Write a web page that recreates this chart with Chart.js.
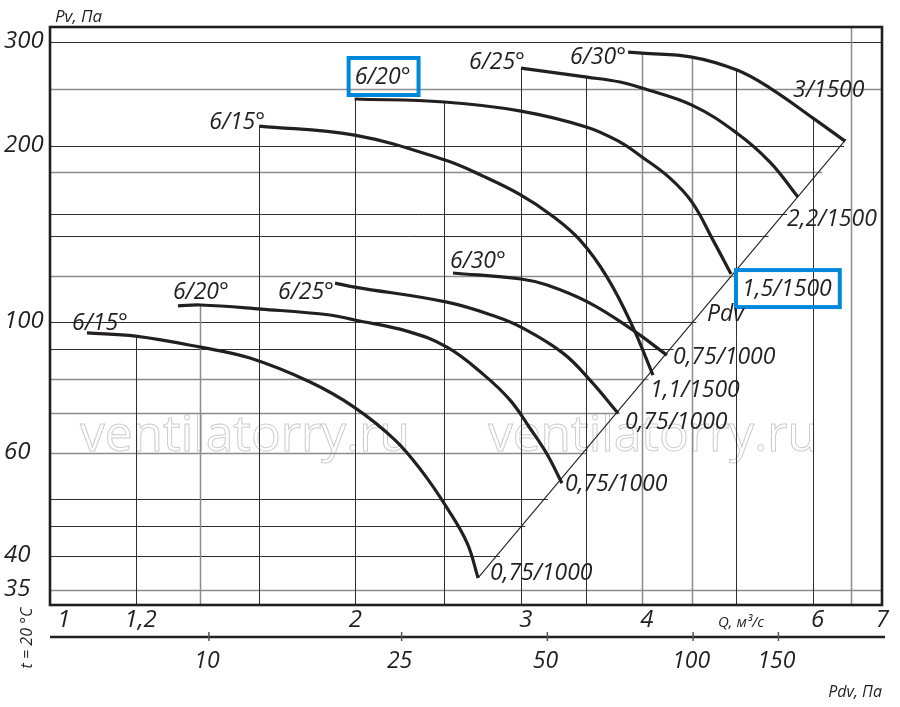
<!DOCTYPE html>
<html>
<head>
<meta charset="utf-8">
<title>Fan curves</title>
<script src="https://cdn.jsdelivr.net/npm/chart.js@4.4.1/dist/chart.umd.min.js"></script>
<style>
    html, body { margin: 0; padding: 0; background: #fff; }
    #wrap { width: 900px; height: 707px; }
</style>
</head>
<body>
<div id="wrap"><canvas id="fanChart" width="900" height="707"></canvas></div>
<script>
// ===========================
// DATA (Q in m3/s, Pv in Pa)
// ===========================

// 1000 rpm group
const qLow15 = [1.069, 1.2, 1.4, 1.575, 1.817, 2.017, 2.224, 2.377, 2.516, 2.639, 2.709];
const pLow15 = [95.9, 94.7, 90.7, 86.9, 79.1, 71.7, 63.0, 55.4, 48.3, 42.1, 36.7];
const qLow20 = [1.327, 1.4, 1.617, 1.905, 2.02, 2.288, 2.516, 2.741, 2.923, 3.065, 3.192, 3.307];
const pLow20 = [106.6, 107.0, 105.3, 102.9, 100.9, 96.6, 90.7, 81.6, 73.7, 66.0, 59.6, 53.2];
const qLow25 = [1.928, 2.02, 2.516, 2.834, 3.0, 3.315, 3.535, 3.779];
const pLow25 = [116.6, 114.8, 108.2, 102.1, 98.1, 88.6, 79.7, 70.0];
const qLow30 = [2.552, 3.0, 3.192, 3.518, 3.888, 4.245];
const pLow30 = [121.3, 118.5, 115.7, 108.2, 97.7, 87.9];

// 1500 rpm group
const qHigh15 = [1.61, 2.02, 2.504, 2.741, 3.0, 3.214, 3.452, 3.681, 3.906, 4.106];
const pHigh15 = [215.8, 208.3, 188.9, 177.4, 164.7, 152.8, 138.0, 119.4, 98.9, 81.3];
const qHigh20 = [2.02, 2.5, 3.0, 3.51, 3.797, 4.0, 4.275, 4.505, 4.736, 4.943];
const pHigh20 = [240.0, 237.2, 228.9, 214.9, 202.7, 191.2, 176.0, 160.2, 138.0, 120.8];
const qHigh25 = [3.0, 3.51, 3.797, 4.0, 4.505, 5.014, 5.423, 5.797];
const pHigh25 = [270.9, 261.5, 256.5, 250.5, 234.3, 209.9, 187.4, 163.4];
const qHigh30 = [3.87, 4.0, 4.505, 5.014, 5.423, 6.007, 6.482];
const pHigh30 = [288.4, 287.3, 282.9, 268.8, 250.5, 222.7, 203.5];

// Pdv line through the curve ends
const pdvLineQ = [2.709, 6.5];
const pdvLineP = [36.7, 205];

const angleLabels = ['6/15°', '6/20°', '6/25°', '6/30°', '6/15°', '6/20°', '6/25°', '6/30°'];
const motorLabels = ['0,75/1000', '0,75/1000', '0,75/1000', '0,75/1000', '1,1/1500', '1,5/1500', '2,2/1500', '3/1500'];

// axes
const qRange = [0.979, 7.078];
const pRange = [33.0, 318.3];
const qTicks = [1, 1.2, 2, 3, 4, 6, 7];
const qTickLabels = ['1', '1,2', '2', '3', '4', '6', '7'];
const pTicks = [300, 200, 100, 60, 40, 35];
const qGrid = [1.2, 1.4, 1.61, 2.02, 2.5, 3.0, 3.5, 4.0, 4.5, 5.0, 6.0, 6.58];
const pGrid = [300, 250, 200, 180, 153, 140, 120, 100, 90, 80, 70, 60, 50, 45, 40, 35];
const pdvTicks = [10, 25, 50, 100, 150];
const pdvK = 4.9;   // Pdv = k * Q^2

// ===========================
// LAYOUT / STYLE
// ===========================
const FONT = '"Open Sans", "DejaVu Sans", sans-serif';
const INK = '#231f20';
const DARK_GRID = '#2e2e2e';
const GREY_GRID = '#8c8c8c';
const BOX_BLUE = '#0089dc';
const greyQ = [1.4, 4.0, 4.5, 6.58];
const greyP = [250, 180, 120, 80, 70, 60, 35];

// label offsets in px from first / last point of each curve
const startOffsets = [[-15, -3], [-5, -7], [-57, 16], [-3, -5], [-50, 3], [0, -15], [-52, 1], [-58, 12]];
const endOffsets = [[12, 2], [3, 8], [7, 16], [6, 9], [-3, 22], [11, 22], [-11, 29], [-52, -44]];
const boxedCurve = 5;

const curves = [
    { q: qLow15, p: pLow15 }, { q: qLow20, p: pLow20 }, { q: qLow25, p: pLow25 }, { q: qLow30, p: pLow30 },
    { q: qHigh15, p: pHigh15 }, { q: qHigh20, p: pHigh20 }, { q: qHigh25, p: pHigh25 }, { q: qHigh30, p: pHigh30 }
];

function toPoints(qs, ps) {
    return qs.map((q, i) => ({ x: q, y: ps[i] }));
}

// highest curve value at a given Q (log-log interpolation), null if none
function curveTop(q) {
    let best = null;
    curves.forEach(c => {
        const n = c.q.length;
        if (q < c.q[0] * 0.997 || q > c.q[n - 1] * 1.003) return;
        for (let i = 0; i < n - 1; i++) {
            if (q <= c.q[i + 1] || i === n - 2) {
                const t = Math.log(q / c.q[i]) / Math.log(c.q[i + 1] / c.q[i]);
                const tt = Math.max(0, Math.min(1, t));
                const p = Math.exp(Math.log(c.p[i]) + tt * (Math.log(c.p[i + 1]) - Math.log(c.p[i])));
                if (best === null || p > best) best = p;
                break;
            }
        }
    });
    return best;
}

function text(ctx, str, px, py, size, align) {
    ctx.font = 'italic ' + size + 'px ' + FONT;
    ctx.textAlign = align || 'left';
    ctx.textBaseline = 'alphabetic';
    ctx.fillText(str, px, py);
}

const nomogram = {
    id: 'nomogram',
    beforeDatasetsDraw(chart) {
        const { ctx, chartArea: a, scales: { x, y } } = chart;
        ctx.save();

        // watermark
        ctx.font = '50px ' + FONT;
        const w = ctx.measureText('ventilatorry.ru').width;
        const size = 50 * 330 / w;
        ctx.font = size + 'px ' + FONT;
        ctx.strokeStyle = '#cdcdcd';
        ctx.lineWidth = 1;
        ctx.textAlign = 'left';
        ctx.textBaseline = 'alphabetic';
        ctx.strokeText('ventilatorry.ru', 80, 451);
        ctx.strokeText('ventilatorry.ru', 488, 451);

        // diagonal in pixels
        const d0 = { x: x.getPixelForValue(pdvLineQ[0]), y: y.getPixelForValue(pdvLineP[0]) };
        const d1 = { x: x.getPixelForValue(pdvLineQ[1]), y: y.getPixelForValue(pdvLineP[1]) };

        // horizontal grid, stops at the Pdv line
        pGrid.forEach(p => {
            const py = Math.round(y.getPixelForValue(p)) + 0.5;
            let xEnd = a.right;
            if (py <= d0.y && py >= d1.y) {
                xEnd = d0.x + (d0.y - py) * (d1.x - d0.x) / (d0.y - d1.y) + 4;
            }
            const grey = greyP.includes(p);
            ctx.strokeStyle = grey ? GREY_GRID : DARK_GRID;
            ctx.lineWidth = grey ? 1.5 : 1;
            ctx.beginPath();
            ctx.moveTo(a.left, py);
            ctx.lineTo(xEnd, py);
            ctx.stroke();
        });

        // vertical grid, from the bottom up to the highest curve
        qGrid.forEach(q => {
            const px = Math.round(x.getPixelForValue(q)) + 0.5;
            const top = curveTop(q);
            const yTop = top === null ? a.top : y.getPixelForValue(top);
            const grey = greyQ.includes(q);
            ctx.strokeStyle = grey ? GREY_GRID : DARK_GRID;
            ctx.lineWidth = grey ? 1.5 : 1;
            ctx.beginPath();
            ctx.moveTo(px, a.bottom);
            ctx.lineTo(px, yTop);
            ctx.stroke();
        });
        ctx.restore();
    },
    afterDatasetsDraw(chart) {
        const { ctx, chartArea: a, scales: { x, y } } = chart;
        ctx.save();
        ctx.fillStyle = INK;
        ctx.strokeStyle = INK;

        // frame
        ctx.lineWidth = 2.6;
        ctx.strokeRect(a.left, a.top, a.right - a.left, a.bottom - a.top);

        // Pv ticks
        pTicks.forEach(p => text(ctx, String(p), 4, y.getPixelForValue(p) + 6, 24, 'left'));
        text(ctx, 'Pv, Па', 55, 22, 17, 'left');

        // Q ticks
        qTicks.forEach((q, i) => text(ctx, qTickLabels[i], x.getPixelForValue(q) + 5, 627, 24, 'center'));
        text(ctx, 'Q, м³/с', 718, 627, 15, 'left');

        // Pdv axis
        const axisY = 637;
        ctx.lineWidth = 2.6;
        ctx.beginPath();
        ctx.moveTo(a.left, axisY);
        ctx.lineTo(a.right + 3, axisY);
        ctx.stroke();
        ctx.lineWidth = 1.5;
        ctx.strokeStyle = '#555';
        pdvTicks.forEach(v => {
            const px = x.getPixelForValue(Math.sqrt(v / pdvK));
            ctx.beginPath();
            ctx.moveTo(px, axisY - 5);
            ctx.lineTo(px, axisY + 4);
            ctx.stroke();
            text(ctx, String(v), px - 2, 668, 23, 'center');
        });
        text(ctx, 'Pdv, Па', a.right, 697, 16, 'right');

        // t = 20 °C
        ctx.save();
        ctx.translate(32, 638);
        ctx.rotate(-Math.PI / 2);
        text(ctx, 't = 20 °C', 0, 0, 16, 'center');
        ctx.restore();

        // curve labels
        ctx.fillStyle = INK;
        curves.forEach((c, i) => {
            const n = c.q.length;
            const sx = x.getPixelForValue(c.q[0]) + startOffsets[i][0];
            const sy = y.getPixelForValue(c.p[0]) + startOffsets[i][1];
            const ex = x.getPixelForValue(c.q[n - 1]) + endOffsets[i][0];
            const ey = y.getPixelForValue(c.p[n - 1]) + endOffsets[i][1];
            text(ctx, angleLabels[i], sx, sy, 23, 'left');
            text(ctx, motorLabels[i], ex, ey, 23, 'left');
            if (i === boxedCurve) {
                ctx.save();
                ctx.strokeStyle = BOX_BLUE;
                ctx.lineWidth = 4;
                [[angleLabels[i], sx, sy], [motorLabels[i], ex, ey]].forEach(([s, bx, by]) => {
                    ctx.font = 'italic 23px ' + FONT;
                    const tw = ctx.measureText(s).width;
                    ctx.strokeRect(bx - 6, by - 26, tw + 14, 37);
                });
                ctx.restore();
                text(ctx, 'Pdv', ex - 35, ey + 25, 23, 'left');
            }
        });
        ctx.restore();
    }
};

const datasets = [{
    data: toPoints(pdvLineQ, pdvLineP),
    borderColor: INK,
    borderWidth: 1.1,
    pointRadius: 0,
    tension: 0
}].concat(curves.map(c => ({
    data: toPoints(c.q, c.p),
    borderColor: INK,
    borderWidth: 3.2,
    borderCapStyle: 'butt',
    borderJoinStyle: 'round',
    pointRadius: 0,
    tension: 0.4
})));

new Chart(document.getElementById('fanChart').getContext('2d'), {
    type: 'line',
    data: { datasets: datasets },
    options: {
        responsive: false,
        animation: false,
        devicePixelRatio: 1,
        layout: { padding: { left: 50, right: 18, top: 27, bottom: 102 } },
        plugins: { legend: { display: false }, tooltip: { enabled: false } },
        scales: {
            x: { type: 'logarithmic', min: qRange[0], max: qRange[1], display: false },
            y: { type: 'logarithmic', min: pRange[0], max: pRange[1], display: false }
        }
    },
    plugins: [nomogram]
});
</script>
</body>
</html>
